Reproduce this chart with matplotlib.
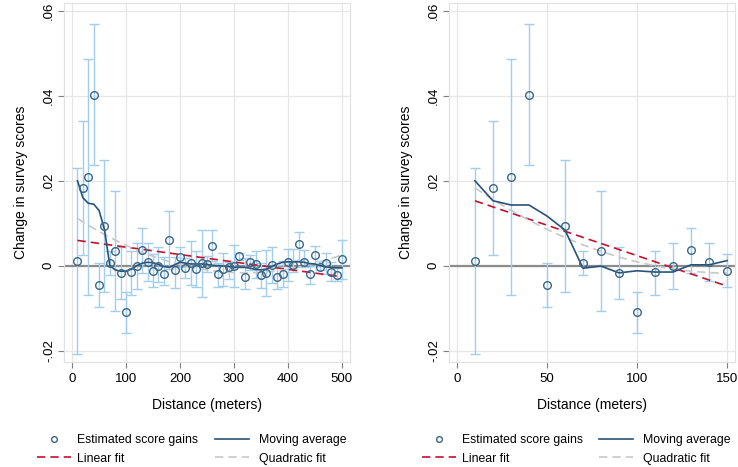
import numpy as np
import matplotlib.pyplot as plt
from matplotlib.ticker import FuncFormatter

plt.rcParams['font.family'] = ['Liberation Sans', 'DejaVu Sans']

# distance bins (meters)
dist = np.arange(10, 501, 10)

# estimated score gains and 95% CI
gain = [0.0011, 0.0183, 0.0209, 0.0402, -0.0046, 0.0094, 0.0007, 0.0035, -0.0018, -0.0109,
        -0.0016, 0.0000, 0.0036, 0.0009, -0.0012, 0.0000, -0.0019, 0.0060, -0.0010, 0.0021,
        -0.0006, 0.0006, -0.0008, 0.0006, 0.0004, 0.0047, -0.0020, -0.0009, -0.0003, 0.0000,
        0.0022, -0.0027, 0.0008, 0.0004, -0.0023, -0.0018, 0.0002, -0.0026, -0.0020, 0.0008,
        0.0002, 0.0050, 0.0009, -0.0019, 0.0025, -0.0003, 0.0006, -0.0015, -0.0022, 0.0015]
ci_hi = [0.0229, 0.0342, 0.0487, 0.0569, 0.0006, 0.0249, 0.0035, 0.0175, 0.0043, -0.0061,
         0.0035, 0.0053, 0.0089, 0.0054, 0.0028, 0.0044, 0.0021, 0.0129, 0.0020, 0.0043,
         0.0017, 0.0058, 0.0034, 0.0083, 0.0023, 0.0085, 0.0006, 0.0029, 0.0009, 0.0048,
         0.0031, 0.0017, 0.0026, 0.0035, 0.0007, 0.0037, 0.0045, 0.0002, 0.0010, 0.0040,
         0.0040, 0.0080, 0.0036, 0.0003, 0.0047, 0.0011, 0.0029, 0.0008, -0.0005, 0.0060]
ci_lo = [-0.0209, 0.0024, -0.0069, 0.0238, -0.0097, -0.0062, -0.0023, -0.0107, -0.0079, -0.0158,
         -0.0068, -0.0055, -0.0018, -0.0035, -0.0051, -0.0038, -0.0046, -0.0009, -0.0053, -0.0002,
         -0.0030, -0.0046, -0.0051, -0.0074, -0.0014, 0.0011, -0.0050, -0.0048, -0.0032, -0.0051,
         0.0013, -0.0056, -0.0010, -0.0028, -0.0053, -0.0072, -0.0042, -0.0054, -0.0050, -0.0035,
         -0.0015, 0.0014, -0.0004, -0.0043, 0.0000, -0.0011, -0.0020, -0.0035, -0.0037, -0.0031]

# moving average, full range (left) and first 150 m (right)
ma_full = [0.0200, 0.0160, 0.0147, 0.0145, 0.0130, 0.0085, 0.0000, -0.0010, -0.0013, -0.0013,
           -0.0008, 0.0000, 0.0006, 0.0008, 0.0007, 0.0003, -0.0002, -0.0004, 0.0002, 0.0008,
           0.0006, 0.0004, 0.0004, 0.0004, 0.0003, 0.0001, 0.0000, 0.0000, -0.0002, -0.0004,
           -0.0004, -0.0004, -0.0006, -0.0009, -0.0010, -0.0008, -0.0002, 0.0004, 0.0008, 0.0009,
           0.0009, 0.0009, 0.0008, 0.0005, 0.0004, 0.0000, -0.0003, -0.0004, -0.0005, -0.0005]
ma_150 = [0.0200, 0.0153, 0.0143, 0.0143, 0.0117, 0.0084, -0.0006, -0.0001, -0.0017, -0.0012,
          -0.0015, -0.0015, 0.0002, 0.0002, 0.0012]

gain = np.array(gain)
ci_hi = np.array(ci_hi)
ci_lo = np.array(ci_lo)

fig = plt.figure(figsize=(7.38, 4.67), dpi=100)
W, H = 738, 467

c_pt = '#3a6688'
c_ci = '#a3cdee'
c_ma = '#27537a'
c_lin = '#c4122f'
c_quad = '#c8c8c8'
c_grid = '#e6e6e6'

yfmt = FuncFormatter(lambda v, p: '0' if abs(v) < 1e-9 else ('%.2f' % v).replace('0.', '.'))


def panel(ax, n, ma, xticks, xlim, leg_x):
    x = dist[:n]
    y = gain[:n]
    ax.set_xlim(*xlim)
    ax.set_ylim(-0.0227, 0.0619)
    ax.set_xticks(xticks)
    ax.set_yticks([-0.02, 0, 0.02, 0.04, 0.06])
    ax.yaxis.set_major_formatter(yfmt)
    ax.grid(True, color=c_grid, lw=0.9)
    ax.set_axisbelow(True)
    for s in ax.spines.values():
        s.set_color('#e2e2e2')
        s.set_linewidth(0.9)
    ax.tick_params(axis='both', colors='#7f7f7f', length=4.5, width=0.8, labelcolor='black', labelsize=9.5)
    ax.tick_params(axis='y', labelrotation=90, pad=2)
    for lab in ax.get_yticklabels():
        lab.set_va('center')
    ax.axhline(0, color='#8c8c8c', lw=1.6, zorder=1.5)

    ax.errorbar(x, y, yerr=[y - ci_lo[:n], ci_hi[:n] - y], fmt='none', ecolor=c_ci,
                elinewidth=1.0, capsize=3.5, capthick=1.0, zorder=2)
    b1 = np.polyfit(x, y, 1)
    b2 = np.polyfit(x, y, 2)
    l_lin, = ax.plot(x, np.polyval(b1, x), color=c_lin, ls=(0, (5, 3)), lw=1.2, zorder=3)
    l_quad, = ax.plot(x, np.polyval(b2, x), color=c_quad, ls=(0, (5, 3)), lw=1.2, zorder=3)
    l_ma, = ax.plot(x, ma, color=c_ma, lw=1.2, zorder=4)
    l_pt, = ax.plot(x, y, 'o', ms=5.5, mfc='none', mec=c_pt, mew=1.0, zorder=5)

    ax.set_xlabel('Distance (meters)', fontsize=10, labelpad=9)
    ax.set_ylabel('Change in survey scores', fontsize=10, labelpad=11)

    kw = dict(frameon=False, loc='upper left', fontsize=8.8, borderpad=0, borderaxespad=0,
              handlelength=2.8, labelspacing=0.55, markerscale=0.75)
    fig.legend([l_pt, l_lin], ['Estimated score gains', 'Linear fit'], handletextpad=0.5,
               bbox_to_anchor=(leg_x[0] / W, 1 - 434 / H), **kw)
    fig.legend([l_ma, l_quad], ['Moving average', 'Quadratic fit'], handletextpad=0.8,
               bbox_to_anchor=(leg_x[1] / W, 1 - 434 / H), **kw)


ax1 = fig.add_axes([64 / W, (H - 362) / H, 286 / W, 359 / H])
panel(ax1, 50, ma_full, [0, 100, 200, 300, 400, 500], (-15, 515), (37, 215))

ax2 = fig.add_axes([449 / W, (H - 362) / H, 286 / W, 359 / H])
panel(ax2, 15, ma_150, [0, 50, 100, 150], (-4.4, 154.4), (422, 599))

fig.savefig('out.png', dpi=100)
